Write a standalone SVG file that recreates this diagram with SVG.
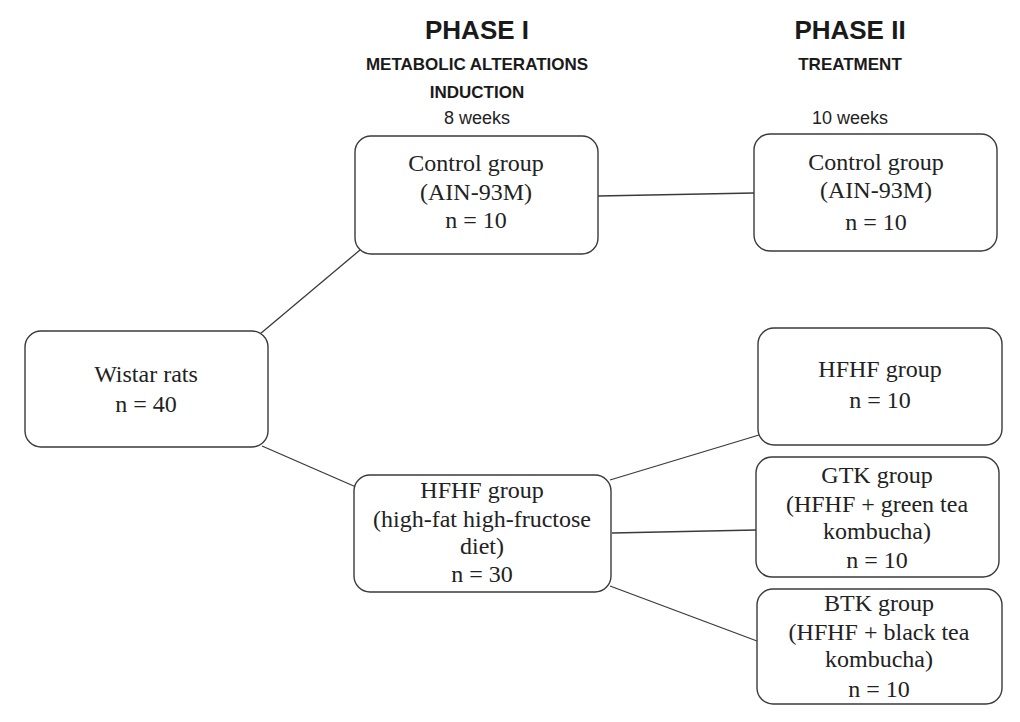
<svg xmlns="http://www.w3.org/2000/svg" width="1020" height="722" viewBox="0 0 1020 722">
<style>
.box{fill:#fff;stroke:#3a3a3a;stroke-width:1.4}
.t{font-family:"Liberation Serif",serif;font-size:24px;fill:#222;text-anchor:middle}
.h1{font-family:"Liberation Sans",sans-serif;font-weight:bold;font-size:26px;fill:#1a1a1a;text-anchor:middle}
.h2{font-family:"Liberation Sans",sans-serif;font-weight:bold;font-size:17px;fill:#1a1a1a;text-anchor:middle}
.w{font-family:"Liberation Sans",sans-serif;font-size:18px;fill:#222;text-anchor:middle}
.c{stroke:#3a3a3a;stroke-width:1.3;fill:none}
</style>
<rect width="1020" height="722" fill="#fff"/>
<g id="headers">
<text class="h1" x="477" y="39">PHASE I</text>
<text class="h2" x="477" y="70">METABOLIC ALTERATIONS</text>
<text class="h2" x="477" y="98">INDUCTION</text>
<text class="w" x="477" y="124">8 weeks</text>
<text class="h1" x="850" y="39">PHASE II</text>
<text class="h2" x="850" y="70">TREATMENT</text>
<text class="w" x="850" y="124">10 weeks</text>
</g>
<g id="connectors">
<line class="c" x1="260" y1="334" x2="360" y2="250"/>
<line class="c" x1="262" y1="446" x2="356" y2="487"/>
<line class="c" x1="598" y1="196" x2="754" y2="193"/>
<line class="c" x1="610" y1="480" x2="759" y2="435"/>
<line class="c" x1="612" y1="533" x2="756" y2="530"/>
<line class="c" x1="610" y1="586" x2="757" y2="641"/>
</g>
<g id="wistar">
<rect class="box" x="25" y="331" width="243" height="116" rx="16"/>
<text class="t" x="146" y="382">Wistar rats</text>
<text class="t" x="146" y="412">n = 40</text>
</g>
<g id="control1">
<rect class="box" x="355" y="136" width="243" height="118" rx="16"/>
<text class="t" x="476" y="171">Control group</text>
<text class="t" x="476" y="200">(AIN-93M)</text>
<text class="t" x="476" y="228">n = 10</text>
</g>
<g id="hfhf1">
<rect class="box" x="354" y="475" width="257" height="117" rx="16"/>
<text class="t" x="482" y="498">HFHF group</text>
<text class="t" x="482" y="527">(high-fat high-fructose</text>
<text class="t" x="482" y="554">diet)</text>
<text class="t" x="482" y="582">n = 30</text>
</g>
<g id="control2">
<rect class="box" x="754" y="134" width="243" height="117" rx="16"/>
<text class="t" x="876" y="170">Control group</text>
<text class="t" x="876" y="198">(AIN-93M)</text>
<text class="t" x="876" y="230">n = 10</text>
</g>
<g id="hfhf2">
<rect class="box" x="758" y="328" width="244" height="117" rx="16"/>
<text class="t" x="880" y="377">HFHF group</text>
<text class="t" x="880" y="408">n = 10</text>
</g>
<g id="gtk">
<rect class="box" x="756" y="457" width="243" height="120" rx="16"/>
<text class="t" x="877" y="483">GTK group</text>
<text class="t" x="877" y="512">(HFHF + green tea</text>
<text class="t" x="877" y="539">kombucha)</text>
<text class="t" x="877" y="568">n = 10</text>
</g>
<g id="btk">
<rect class="box" x="757" y="589" width="245" height="115" rx="16"/>
<text class="t" x="879" y="611">BTK group</text>
<text class="t" x="879" y="640">(HFHF + black tea</text>
<text class="t" x="879" y="667">kombucha)</text>
<text class="t" x="879" y="697">n = 10</text>
</g>
</svg>
